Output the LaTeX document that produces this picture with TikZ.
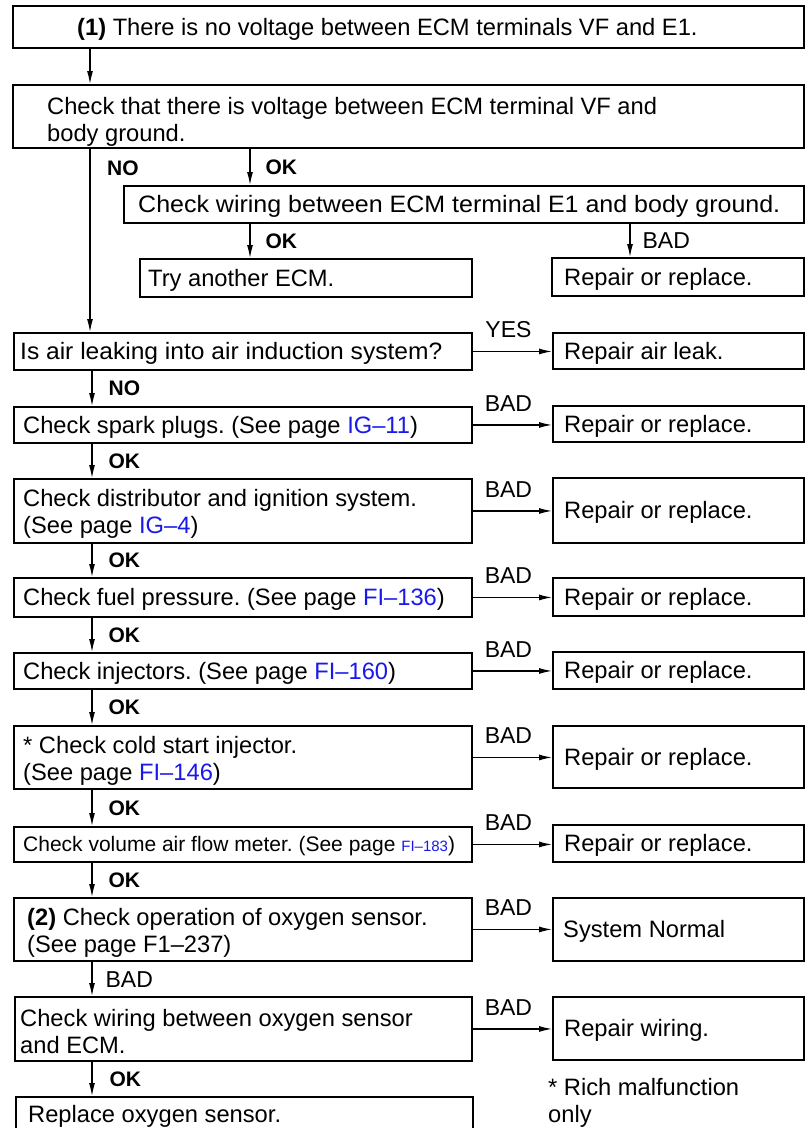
\documentclass[tikz,border=0pt]{standalone}
\usepackage{fontspec}
\usepackage{graphicx}
\setmainfont{Liberation Sans}
\usetikzlibrary{arrows.meta}
\definecolor{pageref}{RGB}{25,25,235}
\newcommand{\pref}[1]{\textcolor{pageref}{#1}}
\frenchspacing

\begin{document}
\begin{tikzpicture}[x=1pt,y=-1pt,
  box/.style={draw, line width=1.9pt, rectangle, anchor=north west, inner sep=0pt},
  body/.style={font=\fontsize{23.7pt}{27pt}\selectfont, inner sep=0pt, anchor=west, align=left},
  oneline/.style={body, text height=17pt, text depth=0pt},
  twoline/.style={body, yshift=-3pt},
  conn/.style={line width=1.2pt, -{Latex[length=13pt,width=6pt]}},
  oklabel/.style={font=\fontsize{21pt}{24pt}\selectfont\bfseries, inner sep=0pt, anchor=west, text height=15pt, text depth=0pt},
  badlabel/.style={font=\fontsize{23pt}{27pt}\selectfont, inner sep=0pt, anchor=west, text height=16.5pt, text depth=0pt},
  sidelabel/.style={font=\fontsize{23pt}{27pt}\selectfont, inner sep=0pt, text height=16.5pt, text depth=0pt, midway, yshift=22pt, xshift=-4pt},
]
\useasboundingbox (0,0) rectangle (804,1128);
\fill[white] (0,0) rectangle (804,1128);

% columns of the vertical connectors
\coordinate (spA) at (90,0);
\coordinate (spB) at (92,0);
\coordinate (colOK) at (250,0);
\coordinate (colBAD) at (630,0);

% ---------- upper part ----------
\node[box, minimum width=791pt, minimum height=42pt] (b1) at (12,5) {};
\node[oneline] (b1t) at ([xshift=65pt]b1.west) {\textbf{(1)} There is no voltage between ECM terminals VF and E1.};

\node[box, minimum width=791pt, minimum height=63pt] (b2) at (12,84) {};
\node[body] (b2t) at ([xshift=35pt,yshift=-5.5pt]b2.west) {Check that there is voltage between ECM terminal VF and\\body ground.};

\node[box, minimum width=680pt, minimum height=37pt] (b3) at (123,185) {};
\node[oneline] (b3t) at ([xshift=15pt]b3.west) {\scalebox{1.055}[1]{Check wiring between ECM terminal E1 and body ground.}};

\node[box, minimum width=332pt, minimum height=38pt] (b4) at (139,258) {};
\node[oneline] (b4t) at ([xshift=9pt]b4.west) {Try another ECM.};

\node[box, minimum width=252pt, minimum height=38pt] (b5) at (551,257) {};
\node[oneline] (b5t) at ([xshift=13pt]b5.west) {Repair or replace.};

\draw[conn] (b1.south -| spA) -- (b2.north -| spA);
\draw[conn] (b2.south -| colOK) -- node[oklabel, midway, xshift=15pt] (okA) {OK} (b3.north -| colOK);
\draw[conn] (b3.south -| colOK) -- node[oklabel, midway, xshift=15pt] (okB) {OK} (b4.north -| colOK);
\draw[conn] (b3.south -| colBAD) -- node[badlabel, midway, xshift=12pt] (badA) {BAD} (b5.north -| colBAD);

% ---------- main chain ----------
\node[box, minimum width=458pt, minimum height=37pt] (air) at (13,332) {};
\node[oneline] (airt) at ([xshift=7pt]air.west) {\scalebox{1.037}[1]{Is air leaking into air induction system?}};
\node[box, minimum width=251pt, minimum height=36pt] (airR) at (552,332) {};
\node[oneline] (airRt) at ([xshift=12pt]airR.west) {Repair air leak.};

\draw[conn] (b2.south -| spA) -- (air.north -| spA);
\node[oklabel] (noA) at (107,168) {NO};

\node[box, minimum width=458pt, minimum height=36pt] (spark) at (13,406) {};
\node[oneline] (sparkt) at ([xshift=10pt]spark.west) {Check spark plugs. (See page \pref{IG–11})};
\node[box, minimum width=251pt, minimum height=36pt] (sparkR) at (552,405) {};
\node[oneline] (sparkRt) at ([xshift=12pt]sparkR.west) {Repair or replace.};

\node[box, minimum width=458pt, minimum height=64pt] (dist) at (13,478) {};
\node[twoline] (distt) at ([xshift=10pt]dist.west) {Check distributor and ignition system.\\(See page \pref{IG–4})};
\node[box, minimum width=251pt, minimum height=65pt] (distR) at (552,477) {};
\node[oneline] (distRt) at ([xshift=12pt]distR.west) {Repair or replace.};

\node[box, minimum width=458pt, minimum height=39pt] (fuel) at (13,577) {};
\node[oneline] (fuelt) at ([xshift=10pt]fuel.west) {Check fuel pressure. (See page \pref{FI–136})};
\node[box, minimum width=251pt, minimum height=38pt] (fuelR) at (552,577) {};
\node[oneline] (fuelRt) at ([xshift=12pt]fuelR.west) {Repair or replace.};

\node[box, minimum width=458pt, minimum height=36pt] (inj) at (13,652) {};
\node[oneline] (injt) at ([xshift=10pt]inj.west) {Check injectors. (See page \pref{FI–160})};
\node[box, minimum width=251pt, minimum height=37pt] (injR) at (552,651) {};
\node[oneline] (injRt) at ([xshift=12pt]injR.west) {Repair or replace.};

\node[box, minimum width=458pt, minimum height=63pt] (cold) at (13,725) {};
\node[twoline] (coldt) at ([xshift=10pt]cold.west) {* Check cold start injector.\\(See page \pref{FI–146})};
\node[box, minimum width=251pt, minimum height=62pt] (coldR) at (552,725) {};
\node[oneline] (coldRt) at ([xshift=12pt]coldR.west) {Repair or replace.};

\node[box, minimum width=458pt, minimum height=35pt] (vol) at (13,826) {};
\node[oneline, font=\fontsize{21pt}{25pt}\selectfont, text height=15pt] (volt) at ([xshift=10pt]vol.west) {Check volume air flow meter. (See page \pref{\fontsize{15pt}{18pt}\selectfont FI–183})};
\node[box, minimum width=251pt, minimum height=37pt] (volR) at (552,824) {};
\node[oneline] (volRt) at ([xshift=12pt]volR.west) {Repair or replace.};

\node[box, minimum width=458pt, minimum height=63pt] (two) at (13,897) {};
\node[twoline] (twot) at ([xshift=14pt]two.west) {\textbf{(2)} Check operation of oxygen sensor.\\(See page F1–237)};
\node[box, minimum width=251pt, minimum height=63pt] (twoR) at (552,897) {};
\node[oneline] (twoRt) at ([xshift=11pt]twoR.west) {System Normal};

\node[box, minimum width=457pt, minimum height=64pt] (wire) at (14,996) {};
\node[twoline] (wiret) at ([xshift=6pt]wire.west) {Check wiring between oxygen sensor\\and ECM.};
\node[box, minimum width=251pt, minimum height=63pt] (wireR) at (552,996) {};
\node[oneline] (wireRt) at ([xshift=12pt]wireR.west) {Repair wiring.};

\node[box, minimum width=457pt, minimum height=40pt] (repl) at (15,1096) {};
\node[oneline] (replt) at ([xshift=13pt,yshift=3pt]repl.west) {Replace oxygen sensor.};

\node[body, anchor=north west, font=\fontsize{23.7pt}{27pt}\selectfont] (note) at (548,1078) {* Rich malfunction\\only};

% vertical connectors of the chain
\draw[conn] (air.south -| spB) -- node[oklabel, midway, xshift=16pt] (noB) {NO} (spark.north -| spB);
\draw[conn] (spark.south -| spB) -- node[oklabel, midway, xshift=16pt] (ok1) {OK} (dist.north -| spB);
\draw[conn] (dist.south -| spB) -- node[oklabel, midway, xshift=16pt] (ok2) {OK} (fuel.north -| spB);
\draw[conn] (fuel.south -| spB) -- node[oklabel, midway, xshift=16pt] (ok3) {OK} (inj.north -| spB);
\draw[conn] (inj.south -| spB) -- node[oklabel, midway, xshift=16pt] (ok4) {OK} (cold.north -| spB);
\draw[conn] (cold.south -| spB) -- node[oklabel, midway, xshift=16pt] (ok5) {OK} (vol.north -| spB);
\draw[conn] (vol.south -| spB) -- node[oklabel, midway, xshift=16pt] (ok6) {OK} (two.north -| spB);
\draw[conn] (two.south -| spB) -- node[badlabel, midway, xshift=13pt] (bad7) {BAD} (wire.north -| spB);
\draw[conn] (wire.south -| spB) -- node[oklabel, midway, xshift=17pt] (ok8) {OK} (repl.north -| spB);

% side branches
\draw[conn] (air.east) -- node[sidelabel] (yes0) {YES} (air.east -| airR.west);
\draw[conn] (spark.east) -- node[sidelabel] (bad1) {BAD} (spark.east -| sparkR.west);
\draw[conn] (dist.east) -- node[sidelabel] (bad2) {BAD} (dist.east -| distR.west);
\draw[conn] (fuel.east) -- node[sidelabel] (bad3) {BAD} (fuel.east -| fuelR.west);
\draw[conn] (inj.east) -- node[sidelabel] (bad4) {BAD} (inj.east -| injR.west);
\draw[conn] (cold.east) -- node[sidelabel] (bad5) {BAD} (cold.east -| coldR.west);
\draw[conn] (vol.east) -- node[sidelabel] (bad6) {BAD} (vol.east -| volR.west);
\draw[conn] (two.east) -- node[sidelabel] (bad8) {BAD} (two.east -| twoR.west);
\draw[conn] (wire.east) -- node[sidelabel] (bad9) {BAD} (wire.east -| wireR.west);
\end{tikzpicture}
\end{document}
